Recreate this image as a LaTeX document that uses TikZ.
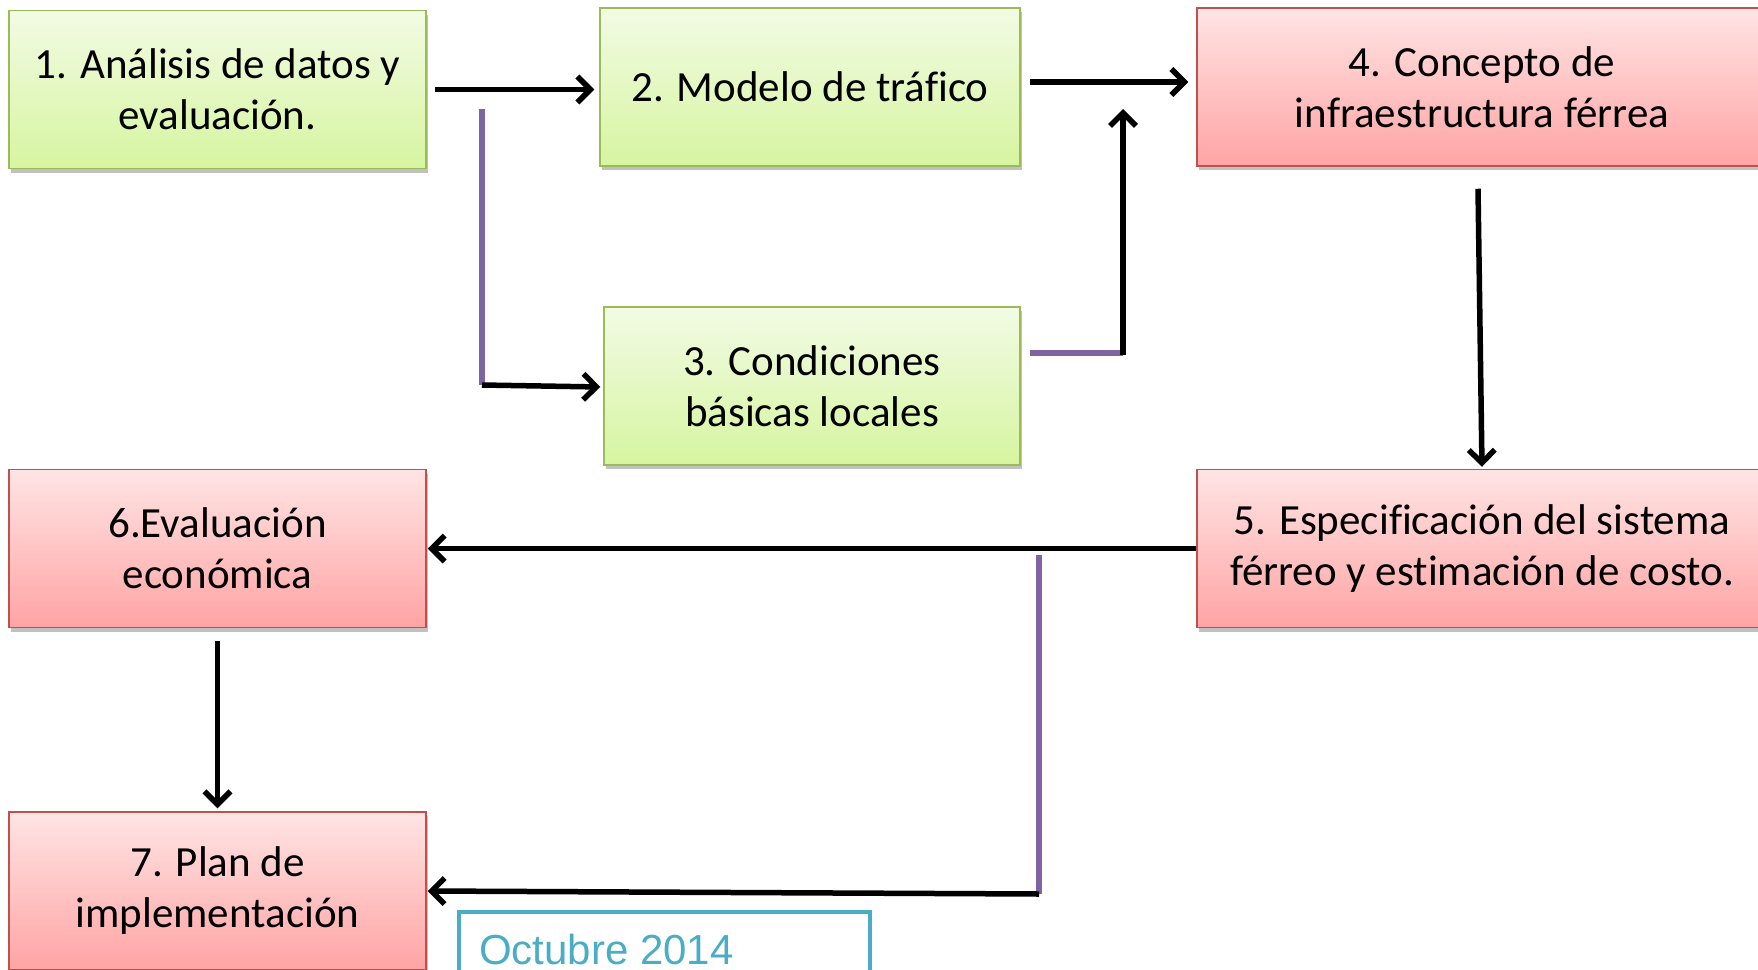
\documentclass[tikz,border=0pt]{standalone}
\usepackage{fontspec}
\setmainfont{Carlito}[Ligatures=NoCommon]
\newfontfamily\arialf{Liberation Sans}
\usetikzlibrary{arrows.meta,shadows,calc}
\definecolor{grnBd}{HTML}{9BBB59}
\definecolor{grnTop}{RGB}{242,251,228}
\definecolor{grnBot}{RGB}{214,245,160}
\definecolor{redBd}{HTML}{C0504D}
\definecolor{redTop}{RGB}{255,228,228}
\definecolor{redBot}{RGB}{255,164,164}
\definecolor{purp}{HTML}{8064A2}
\definecolor{teal}{HTML}{4BACC6}
\begin{document}
\begin{tikzpicture}[x=1pt,y=-1pt,
  boxbase/.style={rectangle, line width=1.5pt, align=center, inner sep=0pt,
    minimum height=158pt, font=\fontsize{43}{51}\selectfont,
    drop shadow={shadow xshift=2pt,shadow yshift=-4pt,opacity=.35,fill=black!70}},
  gbox/.style={boxbase, draw=grnBd, top color=grnTop, bottom color=grnBot},
  rbox/.style={boxbase, draw=redBd, top color=redTop, bottom color=redBot},
  conn/.style={line width=5.5pt, black},
  arr/.style={conn, -{Straight Barb[length=13pt,width=26pt]}},
  pline/.style={line width=6pt, purp}
]
\useasboundingbox (0,0) rectangle (1758,969);
\clip (0,0) rectangle (1758,969);

\node[gbox, minimum width=417pt] (b1) at (217.5,89.5) {1. Análisis de datos y\\evaluación.};
\node[gbox, minimum width=420pt] (b2) at (810,87) {2. Modelo de tráfico};
\node[gbox, minimum width=416pt] (b3) at (812,386) {3. Condiciones\\básicas locales};
\node[rbox, minimum width=570pt] (b4) at (1482,87) {4. Concepto de\\infraestructura férrea};
\node[rbox, minimum width=570pt] (b5) at (1482,548.5) {5. Especificación del sistema\\férreo y estimación de costo.};
\node[rbox, minimum width=417pt] (b6) at (217.5,548.5) {6.Evaluación\\económica};
\node[rbox, minimum width=417pt] (b7) at (217.5,891) {7. Plan de\\implementación};
\node[draw=teal, line width=4pt, rectangle, minimum width=411pt, minimum height=120pt,
  anchor=north west, inner sep=0pt] (oct) at (457,910) {};
\node[anchor=base west, text=teal, font=\arialf\fontsize{42}{50}\selectfont, inner sep=0pt]
  (octt) at (479,964) {Octubre 2014};

% 1 -> 2
\draw[arr] ($(b1.east)+(8,0)$) -- ($(b1.east -| b2.west)+(-5,0)$);
% 1 -> 3 (purple then black)
\coordinate (p1) at (482,109);
\coordinate (p2) at (482,385);
\draw[pline] (p1) -- (p2);
\draw[arr] (p2) -- ($(b3.west)+(-3,1)$);
% 2 -> 4
\draw[arr] ($(b2.east)+(9,-5)$) -- ($(b2.east -| b4.west)+(-8,-5)$);
% 3 -> up
\coordinate (q1) at (1123,353);
\coordinate (q2) at (1123,109);
\draw[pline] ($(b3.east |- q1)+(9,0)$) -- (q1);
\draw[arr] ($(q1)+(0,2)$) -- (q2);
% 4 -> 5
\draw[arr] ($(b4.south)+(-4,22)$) -- ($(b5.north)+(0,-2)$);
% 5 -> 6
\draw[arr] (b5.west) -- ($(b6.east)+(1,0)$);
% 5 -> 7 (purple then black)
\coordinate (r1) at (1039,555);
\coordinate (r2) at (1039,894);
\draw[pline] (r1) -- (r2);
\draw[arr] (r2) -- ($(b7.east)+(1,0)$);
% 6 -> 7
\draw[arr] ($(b6.south)+(0,13)$) -- ($(b7.north)+(0,-3)$);
\end{tikzpicture}
\end{document}
